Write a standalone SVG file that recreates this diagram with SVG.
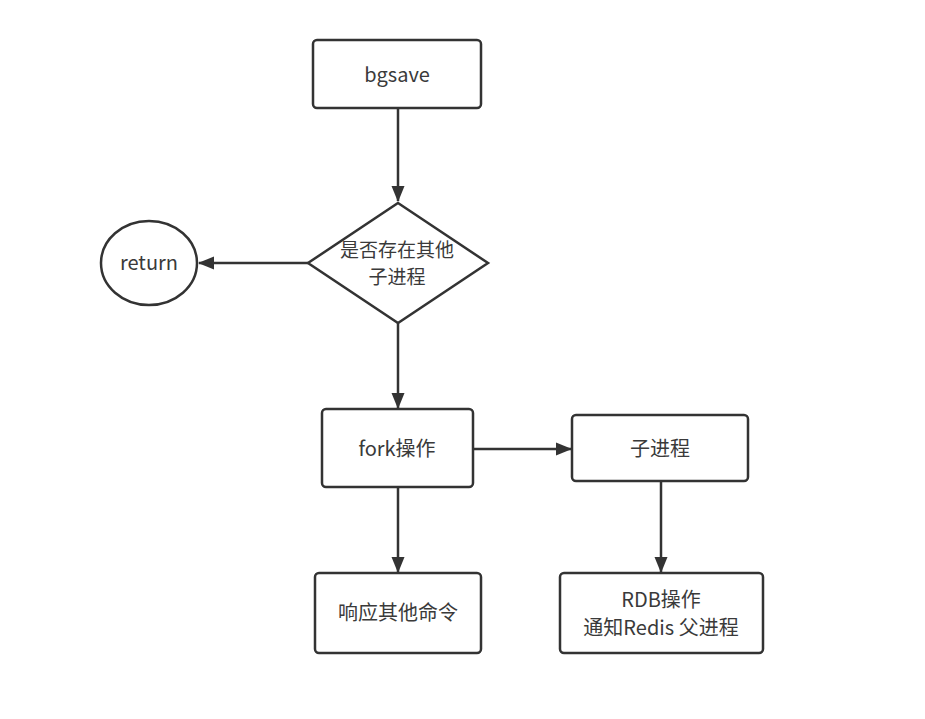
<svg xmlns="http://www.w3.org/2000/svg" width="925" height="719" viewBox="0 0 925 719">
<style>
.n{fill:#fff;stroke:#333;stroke-width:2.5}
.t{font-family:"Noto Sans CJK SC","Noto Sans",sans-serif;font-size:20px;fill:#3a3a3a;text-anchor:middle}
.s{font-size:19px}
.c{stroke:#333;stroke-width:2.5;fill:none;marker-end:url(#a)}
</style>
<defs>
<marker id="a" markerWidth="16" markerHeight="14" refX="15" refY="7" orient="auto" markerUnits="userSpaceOnUse">
<path d="M0,0.5 L16,7 L0,13.5 Z" fill="#333"/>
</marker>
</defs>
<rect width="925" height="719" fill="#fff"/>
<g id="connectors">
<path class="c" d="M398,108 V201"/>
<path class="c" d="M308,263 H199"/>
<path class="c" d="M398,323 V408"/>
<path class="c" d="M473,449 H571"/>
<path class="c" d="M398,487 V572"/>
<path class="c" d="M661,481 V572"/>
</g>
<g id="bgsave"><rect class="n" x="313" y="40" width="168" height="68" rx="4"/><text class="t" x="397" y="82">bgsave</text></g>
<g id="check"><polygon class="n" points="398,203 488,263 398,323 308,263"/><text class="t s" x="397" y="257">是否存在其他</text><text class="t s" x="397" y="284">子进程</text></g>
<g id="return"><ellipse class="n" cx="149" cy="263" rx="48" ry="42"/><text class="t" x="149" y="270">return</text></g>
<g id="fork"><rect class="n" x="322" y="409" width="151" height="78" rx="4"/><text class="t" x="397" y="456">fork操作</text></g>
<g id="child"><rect class="n" x="572" y="415" width="176" height="66" rx="4"/><text class="t" x="660" y="456">子进程</text></g>
<g id="respond"><rect class="n" x="315" y="573" width="166" height="80" rx="4"/><text class="t" x="398" y="620">响应其他命令</text></g>
<g id="rdb"><rect class="n" x="560" y="573" width="203" height="80" rx="4"/><text class="t" x="661" y="607">RDB操作</text><text class="t" x="661" y="635">通知Redis 父进程</text></g>
</svg>
